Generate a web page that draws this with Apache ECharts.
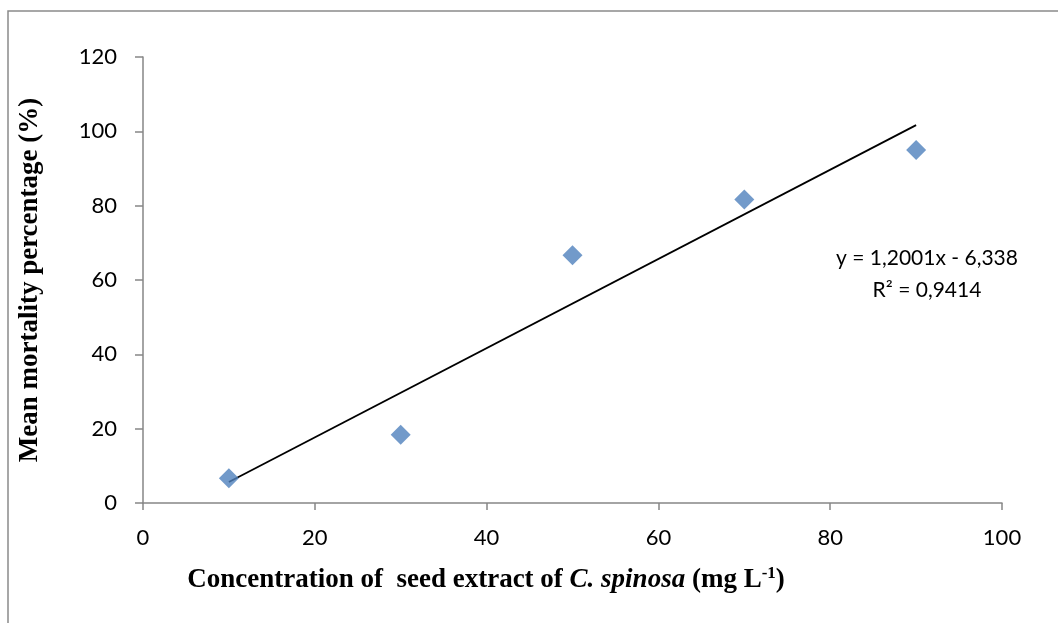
<!DOCTYPE html>
<html>
<head>
<meta charset="utf-8">
<script src="https://cdn.jsdelivr.net/npm/echarts@6/dist/echarts.min.js"></script>
<style>
  html, body { margin: 0; padding: 0; background: #fff; }
  #chart { width: 1058px; height: 623px; }
</style>
</head>
<body>
<div id="chart"></div>
<script>
 // concentrations (mg/L) and mean mortality (%)
 var concentrations = [10, 30, 50, 70, 90];
 var mortality = [6.67, 18.33, 66.67, 81.67, 95];
 // trend line end points
 var trendX = [10, 90];
 var trendY = [5.66, 101.67];
 var equationText = 'y = 1,2001x - 6,338';
 var r2Text = 'R² = 0,9414';

 var points = concentrations.map(function(x, i) { return [x, mortality[i]]; });
 var trend = trendX.map(function(x, i) { return [x, trendY[i]]; });

 var labelFont = 'Lato, "Open Sans", sans-serif';
 var serif = '"Liberation Serif", serif';
 var chart = echarts.init(document.getElementById('chart'));
 chart.setOption({
     animation: false,
     grid: { left: 143, right: 56, top: 57, bottom: 120 },
     graphic: [{
         type: 'rect',
         shape: { x: 8, y: 11, width: 1060, height: 630 },
         style: { fill: 'none', stroke: '#8a8a8a', lineWidth: 1.5 },
         silent: true
     }, {
         type: 'text',
         x: 927, y: 242,
         style: {
             text: equationText + '\n' + r2Text,
             font: '21px ' + labelFont,
             fill: '#000',
             align: 'center',
             lineHeight: 32
         }
     }, {
         type: 'text',
         x: 486, y: 580,
         style: {
             text: '{b|Concentration of  seed extract of }{bi|C. spinosa}{b| (mg L}{sup|-1}{b|)}',
             align: 'center',
             verticalAlign: 'middle',
             rich: {
                 b: { fontFamily: serif, fontWeight: 'bold', fontSize: 27, fill: '#000' },
                 bi: { fontFamily: serif, fontWeight: 'bold', fontStyle: 'italic', fontSize: 27, fill: '#000' },
                 sup: { fontFamily: serif, fontWeight: 'bold', fontSize: 17, fill: '#000', padding: [0, 0, 12, 0] }
             }
         }
     }],
     xAxis: {
         type: 'value',
         min: 0, max: 100, interval: 20,
         splitLine: { show: false },
         axisLine: { lineStyle: { color: '#868686', width: 1.5 } },
         axisTick: { show: true, length: 7, lineStyle: { color: '#868686', width: 1.5 } },
         axisLabel: { color: '#000', fontSize: 22, fontFamily: labelFont, margin: 24 }
     },
     yAxis: {
         type: 'value',
         min: 0, max: 120, interval: 20,
         splitLine: { show: false },
         axisLine: { show: true, lineStyle: { color: '#868686', width: 1.5 } },
         axisTick: { show: true, length: 8, lineStyle: { color: '#868686', width: 1.5 } },
         axisLabel: { color: '#000', fontSize: 22, fontFamily: labelFont, margin: 26 },
         name: 'Mean mortality percentage (%)',
         nameLocation: 'middle',
         nameGap: 99,
         nameTextStyle: {
             fontFamily: serif, fontWeight: 'bold', fontSize: 27, color: '#000'
         }
     },
     series: [{
         type: 'line',
         data: trend,
         symbol: 'none',
         lineStyle: { color: '#000', width: 1.8 },
         z: 2
     }, {
         type: 'scatter',
         data: points,
         symbol: 'diamond',
         symbolSize: [20, 20],
         itemStyle: { color: '#4F81BD' },
         z: 3
     }]
 });
</script>
</body>
</html>
